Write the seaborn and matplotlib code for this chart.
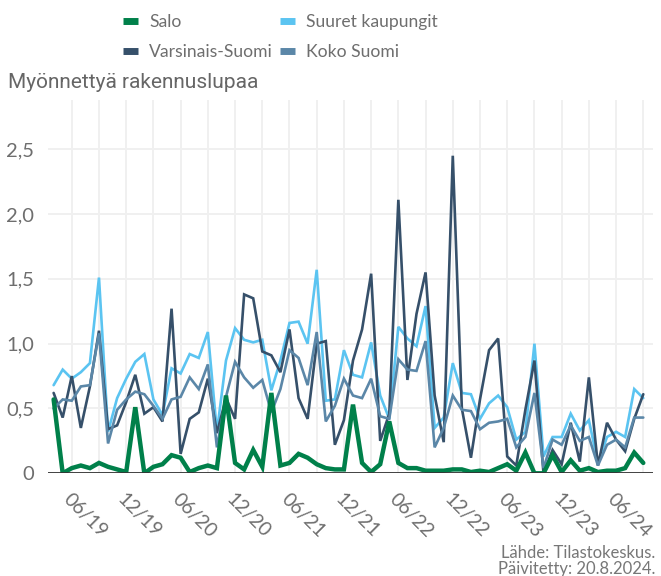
import numpy as np
import pandas as pd
import matplotlib
matplotlib.use("Agg")
import matplotlib.pyplot as plt
import seaborn as sns
from matplotlib.lines import Line2D

# ---- data (monthly values, 66 months) ----
tick_labels = ["06/19", "12/19", "06/20", "12/20", "06/21", "12/21",
               "06/22", "12/22", "06/23", "12/23", "06/24"]

salo = [0.57, 0.00, 0.04, 0.06, 0.04, 0.08, 0.05, 0.03, 0.01, 0.51,
        0.00, 0.05, 0.07, 0.14, 0.12, 0.01, 0.04, 0.06, 0.04, 0.60,
        0.08, 0.03, 0.18, 0.05, 0.62, 0.06, 0.08, 0.15, 0.12, 0.07,
        0.04, 0.03, 0.03, 0.53, 0.08, 0.01, 0.07, 0.40, 0.08, 0.04,
        0.04, 0.02, 0.02, 0.02, 0.03, 0.03, 0.01, 0.02, 0.01, 0.04,
        0.07, 0.02, 0.16, 0.00, 0.00, 0.14, 0.01, 0.10, 0.02, 0.04,
        0.01, 0.02, 0.02, 0.04, 0.16, 0.08]

suuret = [0.68, 0.80, 0.73, 0.78, 0.85, 1.51, 0.32, 0.58, 0.73, 0.86,
          0.92, 0.57, 0.45, 0.81, 0.77, 0.92, 0.89, 1.09, 0.32, 0.87,
          1.12, 1.03, 1.01, 1.03, 0.64, 0.87, 1.16, 1.17, 1.00, 1.57,
          0.56, 0.57, 0.95, 0.76, 0.74, 1.01, 0.60, 0.42, 1.13, 1.04,
          0.98, 1.29, 0.35, 0.43, 0.85, 0.62, 0.61, 0.42, 0.54, 0.60,
          0.51, 0.26, 0.32, 1.00, 0.13, 0.28, 0.28, 0.46, 0.33, 0.41,
          0.08, 0.28, 0.32, 0.28, 0.65, 0.58]

varsinais = [0.62, 0.43, 0.75, 0.35, 0.67, 1.10, 0.34, 0.37, 0.55, 0.76,
             0.46, 0.51, 0.40, 1.27, 0.15, 0.42, 0.47, 0.73, 0.31, 0.58,
             0.42, 1.38, 1.35, 0.94, 0.91, 0.78, 1.11, 0.58, 0.42, 1.00,
             1.02, 0.22, 0.41, 0.87, 1.11, 1.54, 0.25, 0.46, 2.11, 0.72,
             1.23, 1.55, 0.60, 0.24, 2.45, 0.50, 0.12, 0.57, 0.95, 1.04,
             0.13, 0.06, 0.49, 0.87, 0.00, 0.18, 0.07, 0.39, 0.09, 0.74,
             0.06, 0.39, 0.26, 0.17, 0.42, 0.61]

koko = [0.50, 0.57, 0.56, 0.67, 0.68, 1.08, 0.23, 0.49, 0.57, 0.63,
        0.61, 0.52, 0.42, 0.57, 0.59, 0.74, 0.65, 0.84, 0.20, 0.59,
        0.86, 0.74, 0.66, 0.72, 0.47, 0.65, 0.95, 0.89, 0.68, 1.09,
        0.40, 0.52, 0.73, 0.60, 0.58, 0.73, 0.44, 0.42, 0.88, 0.80,
        0.79, 1.02, 0.20, 0.35, 0.60, 0.49, 0.48, 0.34, 0.39, 0.40,
        0.42, 0.20, 0.28, 0.62, 0.04, 0.26, 0.22, 0.37, 0.25, 0.28,
        0.06, 0.22, 0.26, 0.20, 0.43, 0.43]

series_names = ["Salo", "Suuret kaupungit", "Varsinais-Suomi", "Koko Suomi"]
colors = {"Salo": "#00804a", "Suuret kaupungit": "#5bc4f1",
          "Varsinais-Suomi": "#36506a", "Koko Suomi": "#5b87a8"}
widths = {"Salo": 3.2, "Suuret kaupungit": 1.9,
          "Varsinais-Suomi": 1.9, "Koko Suomi": 1.9}

month = np.arange(len(salo))
df = pd.DataFrame({"month": month, "Salo": salo, "Suuret kaupungit": suuret,
                   "Varsinais-Suomi": varsinais, "Koko Suomi": koko})
long = df.melt(id_vars="month", var_name="series", value_name="value")

sns.set_theme(style="white")
plt.rcParams["font.family"] = ["Lato", "DejaVu Sans"]

fig = plt.figure(figsize=(6.61, 5.76), dpi=100)
ax = fig.add_axes([48 / 661, 1 - 473.3 / 576, 605 / 661, (473.3 - 100) / 576])

draw_order = ["Suuret kaupungit", "Varsinais-Suomi", "Koko Suomi", "Salo"]
for z, name in enumerate(draw_order):
    sub = long[long["series"] == name]
    sns.lineplot(data=sub, x="month", y="value", ax=ax, color=colors[name],
                 linewidth=widths[name], legend=False, zorder=3 + z,
                 solid_joinstyle="miter")

ax.set_xlim(-0.62, 66.07)
ax.set_ylim(0, 2.88)
ax.set_xlabel("")
ax.set_ylabel("")

# grid
for v in [0.5, 1.0, 1.5, 2.0, 2.5]:
    ax.axhline(v, color="#f0f0f0", lw=1.4, zorder=1)
for m in range(2, 66, 3):
    ax.axvline(m, color="#f0f0f0", lw=1.4, zorder=1)
ax.axhline(0, color="#333333", lw=1.3, zorder=10)

for s in ax.spines.values():
    s.set_visible(False)

ax.set_yticks([0, 0.5, 1.0, 1.5, 2.0, 2.5])
ax.set_yticklabels(["0", "0,5", "1,0", "1,5", "2,0", "2,5"])
ax.set_xticks(np.arange(2, 66, 6))
ax.set_xticklabels(tick_labels)
ax.tick_params(axis="y", length=0, pad=10, labelsize=14.5, labelcolor="#6e6e6e")
ax.tick_params(axis="x", length=0, pad=12, labelsize=14, labelcolor="#6e6e6e")
for lab in ax.get_xticklabels():
    lab.set_rotation(-45)
    lab.set_ha("left")
    lab.set_va("top")
    lab.set_rotation_mode("anchor")

# legend (row-major order like the reference: column 1 = Salo, Varsinais-Suomi)
leg_order = ["Salo", "Varsinais-Suomi", "Suuret kaupungit", "Koko Suomi"]
handles = [Line2D([0], [0], color=colors[n], lw=5, solid_capstyle="butt")
           for n in leg_order]
leg = fig.legend(handles, leg_order, ncol=2, loc="upper left",
                 bbox_to_anchor=(107 / 661, 1 + 2 / 576), frameon=False,
                 handlelength=0.85, handletextpad=0.65, columnspacing=0.4,
                 labelspacing=0.82, prop={"size": 12.6})
for t in leg.get_texts():
    t.set_color("#6e6e6e")

fig.text(8 / 661, 1 - 82 / 576, "Myönnettyä rakennuslupaa", ha="left",
         va="center", fontsize=15, color="#666666", family=["Roboto", "DejaVu Sans"])

fig.text(655 / 661, 1 - 553 / 576, "Lähde: Tilastokeskus.", ha="right",
         va="center", fontsize=12, color="#777777")
fig.text(655 / 661, 1 - 569 / 576, "Päivitetty: 20.8.2024.", ha="right",
         va="center", fontsize=12, color="#777777")

fig.savefig("out.png", dpi=100)
